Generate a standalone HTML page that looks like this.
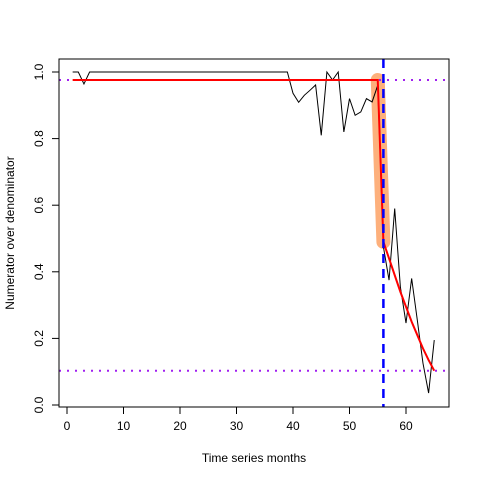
<!DOCTYPE html>
<html><head><meta charset="utf-8"><style>body{margin:0;background:#fff}svg{display:block;font-family:"Liberation Sans",Arial,sans-serif}</style></head>
<body>
<svg id="chart" width="480" height="480" viewBox="0 0 480 480">
<rect x="0" y="0" width="480" height="480" fill="#fff"/>
<g id="marks"></g>
<g id="axes"></g>
<text x="254" y="462" text-anchor="middle" font-size="12">Time series months</text>
<text x="14" y="233" text-anchor="middle" font-size="12" transform="rotate(-90 14 233)">Numerator over denominator</text>
</svg>
<script>
const months = [];
for (let i = 1; i <= 65; i++) months.push(i);
const ratio = [1,1,0.964,1,1,1,1,1,1,1,1,1,1,1,1,1,1,1,1,1,1,1,1,1,1,1,1,1,1,1,1,1,1,1,1,1,1,1,1,
  0.936,0.909,0.93,0.945,0.961,0.81,1,0.976,1,0.82,0.92,0.87,0.88,0.92,0.91,0.96,
  0.475,0.375,0.59,0.355,0.246,0.38,0.255,0.126,0.036,0.195];
const fitMonths = [1,55,56,57,58,59,60,61,62,63,64,65];
const fitValues = [0.976,0.976,0.49,0.44,0.39,0.34,0.295,0.25,0.21,0.17,0.135,0.103];
const highlightMonths = [55,56];
const highlightValues = [0.976,0.49];
const breakMonth = 56;
const refLines = [0.976,0.103];
const xTicks = [0,10,20,30,40,50,60];
const yTicks = [0,0.2,0.4,0.6,0.8,1.0];
const yTickLabels = ["0.0","0.2","0.4","0.6","0.8","1.0"];

const X = t => 67 + 5.65 * t;
const Y = v => 405 - 333 * v;
const NS = "http://www.w3.org/2000/svg";
const marks = document.getElementById('marks');
const axes = document.getElementById('axes');
function mk(tag, attrs, parent) {
  const e = document.createElementNS(NS, tag);
  for (const k in attrs) e.setAttribute(k, attrs[k]);
  parent.appendChild(e);
  return e;
}
const pts = (xs, ys) => xs.map((t, i) => X(t) + ',' + Y(ys[i])).join(' ');

let e = mk('polyline', {points: pts(highlightMonths, highlightValues), fill: 'none', stroke: '#FDB07C', 'stroke-width': 14, 'stroke-linecap': 'round'}, marks);



e = mk('polyline', {points: pts(months, ratio), fill: 'none', stroke: '#000', 'stroke-width': 1}, marks);



refLines.forEach((v, i) => {
  const l = mk('line', {x1: 59, x2: 449, y1: Y(v), y2: Y(v), stroke: '#A020F0', 'stroke-width': 2, 'stroke-dasharray': '2,6'}, marks);
  
  
});

e = mk('polyline', {points: pts(fitMonths, fitValues), fill: 'none', stroke: '#FF0000', 'stroke-width': 2}, marks);



e = mk('line', {x1: X(breakMonth), x2: X(breakMonth), y1: 59, y2: 407, stroke: '#0000FF', 'stroke-width': 2.5, 'stroke-dasharray': '9,6'}, marks);



e = mk('rect', {x: 59, y: 59, width: 390, height: 348, fill: 'none', stroke: '#000'}, axes);



xTicks.forEach(t => {
  const tk = mk('line', {x1: X(t), x2: X(t), y1: 407, y2: 414, stroke: '#000'}, axes);
  
  
  const tx = mk('text', {x: X(t), y: 430, 'text-anchor': 'middle', 'font-size': 12}, axes);
  tx.textContent = t;
  
  
});
yTicks.forEach((v, i) => {
  const tk = mk('line', {x1: 52, x2: 59, y1: Y(v), y2: Y(v), stroke: '#000'}, axes);
  
  
  const tx = mk('text', {x: 43, y: Y(v), 'text-anchor': 'middle', 'font-size': 12, transform: 'rotate(-90 43 ' + Y(v) + ')'}, axes);
  tx.textContent = yTickLabels[i];
  
  
});
</script>
</body></html>
